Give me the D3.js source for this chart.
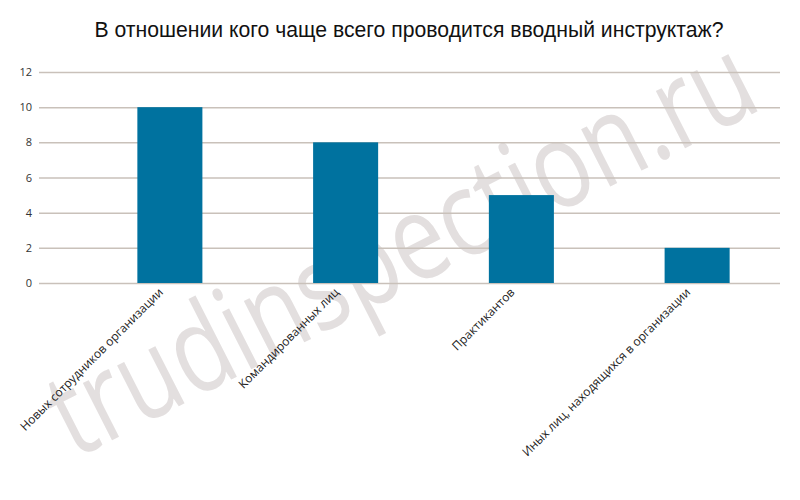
<!DOCTYPE html>
<html><head><meta charset="utf-8">
<script src="https://cdn.jsdelivr.net/npm/d3@7"></script>
<style>body{margin:0;background:#fff}</style>
</head><body>
<svg id="c" width="800" height="500"></svg>
<script>
const title = "В отношении кого чаще всего проводится вводный инструктаж?";
const categories = ["Новых сотрудников организации","Командированных лиц","Практикантов","Иных лиц, находящихся в организации"];
const values = [10, 8, 5, 2];
const yTicks = [0, 2, 4, 6, 8, 10, 12];
const watermark = "trudinspection.ru";

const svg = d3.select("#c");
svg.append("rect").attr("width",800).attr("height",500).attr("fill","#fff");

// watermark
svg.append("text")
  .attr("transform","translate(405,255) rotate(-27)")
  .attr("text-anchor","middle")
  .attr("dominant-baseline","middle")
  .attr("font-family","Open Sans")
  .attr("font-weight",400)
  .attr("font-size",120)
  .attr("textLength",775)
  .attr("lengthAdjust","spacingAndGlyphs")
  .attr("fill","#e3dfdf")
  .text(watermark);

const y = d3.scaleLinear().domain([0,12]).range([283,72]);
const x = d3.scaleBand().domain(categories).range([82,785]).paddingInner(0.63).paddingOuter(0.315);

// gridlines
const gAxis = svg.append("g").attr("transform","translate(39,0)")
  .call(d3.axisLeft(y).tickValues(yTicks).tickSize(-741).tickPadding(7).tickFormat(d3.format("d")));
gAxis.select(".domain").remove();
gAxis.selectAll(".tick line").attr("stroke","#c9c1ba").attr("stroke-width",1.5);
gAxis.selectAll(".tick text").attr("font-family","Open Sans").attr("font-size",11).attr("fill","#333");

// bars
svg.append("g").selectAll("rect").data(values).join("rect")
  .attr("x",(d,i)=>x(categories[i]))
  .attr("width",x.bandwidth())
  .attr("y",d=>y(d))
  .attr("height",d=>y(0)-y(d))
  .attr("fill","#00729f");

// category labels
svg.append("g").selectAll("text").data(categories).join("text")
  .attr("transform",d=>`translate(${x(d)+x.bandwidth()/2-6},${y(0)+10}) rotate(-45)`)
  .attr("text-anchor","end")
  .attr("font-family","Open Sans")
  .attr("font-size",12)
  .attr("fill","#222")
  .text(d=>d);

// title
svg.append("text").attr("x",409).attr("y",37).attr("text-anchor","middle")
  .attr("font-family","Liberation Sans").attr("font-size",21.2).attr("fill","#111")
  .text(title);
</script>
</body></html>
